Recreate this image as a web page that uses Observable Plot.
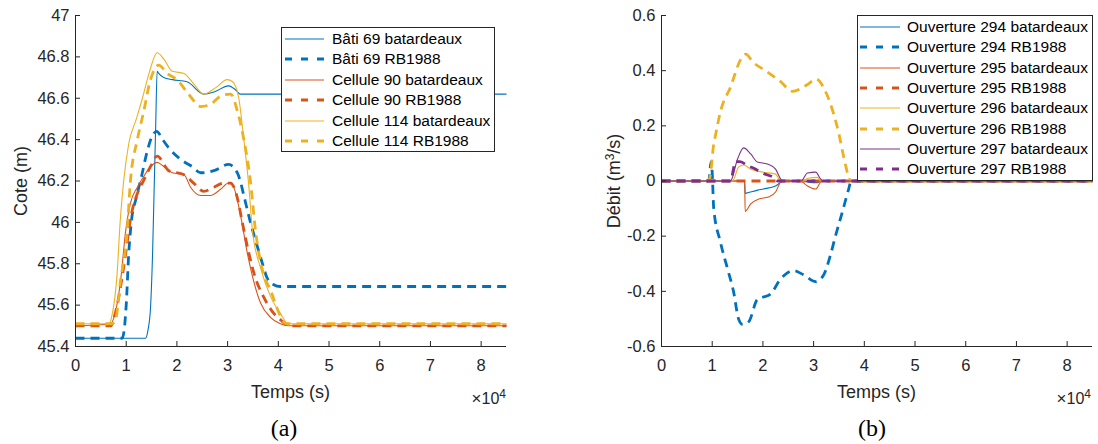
<!DOCTYPE html>
<html>
<head>
<meta charset="utf-8">
<script src="https://cdn.jsdelivr.net/npm/d3@7"></script>
<script src="https://cdn.jsdelivr.net/npm/@observablehq/plot@0.6"></script>
<style>
  html, body { margin: 0; padding: 0; background: white; }
  #wrap { position: relative; width: 1098px; height: 444px; overflow: hidden; font-family: "Liberation Sans", Arial, sans-serif; color: #262626; }
  .abs { position: absolute; white-space: nowrap; }
  .legend { position: absolute; box-sizing: border-box; border: 1px solid #262626; background: white; }
  .row { position: absolute; left: 0; height: 20px; display: flex; align-items: center; font-size: 15.5px; color: #000; white-space: nowrap; }
  .row svg { flex: none; }
  .xlab { font-size: 18px; line-height: 20px; transform: translateX(-50%); }
  .ylab { font-size: 18px; line-height: 18px; transform: translate(-50%, -50%) rotate(-90deg); }
  .cap { font-family: "Liberation Serif", "DejaVu Serif", serif; font-size: 24px; line-height: 26px; color: #000; transform: translateX(-50%); }
</style>
</head>
<body>
<div id="wrap">
  <div id="chartA" class="abs" style="left:0;top:0"></div>
  <div id="chartB" class="abs" style="left:549px;top:0"></div>
</div>
<script>
// ---------- shared axis data ----------
const xDomain = [0, 85000];
const xTicks = [0, 10000, 20000, 30000, 40000, 50000, 60000, 70000, 80000];
const xLabel = "Temps (s)";

// ---------- chart (a): Cote (m) ----------
const yDomainA = [45.4, 47];
const yTicksA = [45.4, 45.6, 45.8, 46, 46.2, 46.4, 46.6, 46.8, 47];
const yLabelA = "Cote (m)";

const bati69Bat_t = [0, 13800, 14300, 14800, 15200, 15500, 15800, 16100, 16400, 17400, 19100, 22000, 25300, 27300, 30200, 31600, 32500, 34000, 85000];
const bati69Bat_v = [45.44, 45.44, 45.48, 45.59, 45.85, 46.15, 46.45, 46.73, 46.72, 46.70, 46.69, 46.68, 46.62, 46.63, 46.66, 46.64, 46.62, 46.62, 46.62];

const bati69RB_t = [0, 9200, 9600, 10000, 10500, 11000, 12000, 13000, 14000, 15000, 16000, 17200, 18400, 21000, 23000, 24700, 27300, 30200, 31900, 32600, 33100, 34500, 35900, 37000, 37800, 39000, 40400, 85000];
const bati69RB_v = [45.44, 45.44, 45.48, 45.60, 45.85, 46.00, 46.12, 46.22, 46.33, 46.41, 46.44, 46.40, 46.36, 46.30, 46.27, 46.24, 46.25, 46.28, 46.24, 46.19, 46.14, 46.00, 45.88, 45.79, 45.73, 45.70, 45.69, 45.69];

const cel90Bat_t = [0, 6900, 7900, 8900, 9900, 10800, 12200, 13400, 14800, 16100, 17400, 19100, 21400, 22700, 24700, 26600, 28600, 30200, 31200, 32500, 33900, 35100, 36500, 38500, 40400, 42000, 85000];
const cel90Bat_v = [45.50, 45.51, 45.57, 45.72, 45.96, 46.09, 46.17, 46.22, 46.27, 46.29, 46.27, 46.24, 46.23, 46.17, 46.13, 46.13, 46.16, 46.19, 46.17, 46.04, 45.85, 45.72, 45.61, 45.54, 45.51, 45.50, 45.50];

const cel90RB_t = [0, 7000, 7500, 8900, 9900, 10800, 12200, 13400, 14800, 16100, 18400, 21400, 23300, 25300, 27300, 29200, 30600, 31900, 32900, 34200, 35500, 37100, 39100, 40400, 42000, 85000];
const cel90RB_v = [45.50, 45.50, 45.53, 45.69, 45.85, 46.01, 46.14, 46.20, 46.27, 46.32, 46.25, 46.23, 46.19, 46.15, 46.17, 46.19, 46.19, 46.12, 46.00, 45.85, 45.73, 45.64, 45.56, 45.53, 45.50, 45.50];

const cel114Bat_t = [0, 6600, 7200, 8200, 8800, 9500, 10500, 12000, 13200, 14500, 16100, 17400, 19100, 21400, 23300, 25300, 27600, 29900, 31000, 32200, 33200, 34200, 34900, 36500, 38500, 40400, 42000, 85000];
const cel114Bat_v = [45.51, 45.51, 45.55, 45.75, 46.00, 46.20, 46.38, 46.50, 46.60, 46.72, 46.82, 46.79, 46.73, 46.72, 46.67, 46.62, 46.65, 46.69, 46.68, 46.60, 46.40, 46.17, 45.96, 45.78, 45.64, 45.56, 45.51, 45.51];

const cel114RB_t = [0, 7200, 7900, 8900, 10200, 10800, 12200, 13400, 14800, 16400, 18100, 20000, 22300, 24700, 26600, 28600, 30600, 31900, 33200, 34500, 35500, 37100, 38500, 40000, 41500, 85000];
const cel114RB_v = [45.51, 45.51, 45.53, 45.72, 45.96, 46.19, 46.40, 46.53, 46.69, 46.76, 46.72, 46.69, 46.62, 46.56, 46.57, 46.61, 46.62, 46.54, 46.40, 46.20, 45.96, 45.75, 45.67, 45.57, 45.51, 45.51];

const namesA = ["Bâti 69 batardeaux", "Bâti 69 RB1988", "Cellule 90 batardeaux", "Cellule 90 RB1988", "Cellule 114 batardeaux", "Cellule 114 RB1988"];

// ---------- chart (b): Débit (m3/s) ----------
const yDomainB = [-0.6, 0.6];
const yTicksB = [-0.6, -0.4, -0.2, 0, 0.2, 0.4, 0.6];

const o294Bat_t = [0, 16400, 16500, 17500, 19000, 20100, 22500, 23500, 24000, 28000, 29000, 30800, 31400, 85000];
const o294Bat_v = [0, 0, -0.045, -0.040, -0.033, -0.029, -0.018, -0.005, 0, 0, -0.004, -0.006, 0, 0];

const o294RB_t = [0, 9300, 9800, 10000, 10300, 11600, 13200, 14200, 15200, 16000, 17200, 18900, 21500, 23500, 26000, 28000, 30400, 32000, 33300, 34300, 35700, 36900, 37400, 85000];
const o294RB_v = [0, 0, 0.07, 0.03, -0.10, -0.22, -0.33, -0.40, -0.50, -0.52, -0.51, -0.43, -0.41, -0.355, -0.325, -0.34, -0.365, -0.34, -0.27, -0.20, -0.11, -0.03, 0, 0];

const o295Bat_t = [0, 16400, 16500, 17600, 19200, 21100, 22500, 23500, 24000, 27500, 27800, 28800, 30400, 31400, 31800, 85000];
const o295Bat_v = [0, 0, -0.11, -0.083, -0.065, -0.058, -0.040, -0.004, 0, 0, -0.004, -0.018, -0.029, -0.004, 0, 0];

const o295RB_t = [0, 85000];
const o295RB_v = [0, 0];

const o296Bat_t = [0, 14000, 15200, 16200, 17600, 20100, 22500, 23500, 28000, 28800, 30800, 31400, 85000];
const o296Bat_v = [0, 0, 0.05, 0.058, 0.043, 0.032, 0.025, 0, 0, 0.01, 0.013, 0, 0];

const o296RB_t = [0, 9300, 9700, 10200, 10700, 11600, 13600, 15600, 16600, 18100, 20500, 23500, 25800, 28800, 30500, 32200, 34000, 35000, 35900, 37400, 85000];
const o296RB_v = [0, 0, 0.03, 0.12, 0.17, 0.25, 0.34, 0.44, 0.46, 0.43, 0.40, 0.36, 0.325, 0.35, 0.37, 0.33, 0.24, 0.17, 0.09, 0, 0];

const o297Bat_t = [0, 13600, 15000, 16200, 17600, 18900, 20900, 22500, 23500, 24000, 27500, 28800, 30400, 31400, 31800, 85000];
const o297Bat_v = [0, 0, 0.08, 0.12, 0.098, 0.069, 0.062, 0.043, 0.007, 0, 0, 0.029, 0.032, 0.007, 0, 0];

const o297RB_t = [0, 13600, 14600, 15500, 17000, 18100, 20100, 21900, 23000, 85000];
const o297RB_v = [0, 0, 0.07, 0.07, 0.055, 0.047, 0.027, 0.015, 0, 0];

const namesB = ["Ouverture 294 batardeaux", "Ouverture 294 RB1988", "Ouverture 295 batardeaux", "Ouverture 295 RB1988",
                "Ouverture 296 batardeaux", "Ouverture 296 RB1988", "Ouverture 297 batardeaux", "Ouverture 297 RB1988"];

// ---------- styles ----------
const colors = ["#0072BD", "#D95319", "#EDB120", "#7E2F8E"];
const THIN = 1.1, THICK = 2.8;

const seriesA = [
  {t: bati69Bat_t, v: bati69Bat_v, c: colors[0], dashed: false},
  {t: bati69RB_t, v: bati69RB_v, c: colors[0], dashed: true},
  {t: cel90Bat_t, v: cel90Bat_v, c: colors[1], dashed: false},
  {t: cel90RB_t, v: cel90RB_v, c: colors[1], dashed: true},
  {t: cel114Bat_t, v: cel114Bat_v, c: colors[2], dashed: false},
  {t: cel114RB_t, v: cel114RB_v, c: colors[2], dashed: true}
];
const seriesB = [
  {t: o294Bat_t, v: o294Bat_v, c: colors[0], dashed: false},
  {t: o294RB_t, v: o294RB_v, c: colors[0], dashed: true},
  {t: o295Bat_t, v: o295Bat_v, c: colors[1], dashed: false},
  {t: o295RB_t, v: o295RB_v, c: colors[1], dashed: true},
  {t: o296Bat_t, v: o296Bat_v, c: colors[2], dashed: false},
  {t: o296RB_t, v: o296RB_v, c: colors[2], dashed: true},
  {t: o297Bat_t, v: o297Bat_v, c: colors[3], dashed: false},
  {t: o297RB_t, v: o297RB_v, c: colors[3], dashed: true}
];

function makeChart(series, yDomain, yTicks, marginLeft, marginRight) {
  return Plot.plot({
    width: 549, height: 400,
    marginTop: 15, marginBottom: 54, marginLeft, marginRight,
    x: {domain: xDomain},
    y: {domain: yDomain},
    style: {fontFamily: "'Liberation Sans', Arial, sans-serif", fontSize: "16px", color: "#262626", background: "white", overflow: "visible"},
    marks: [
      ...series.map(s => Plot.line(s.t.map((t, i) => ({t, v: s.v[i]})), {
        x: "t", y: "v", stroke: s.c,
        strokeWidth: s.dashed ? THICK : THIN,
        strokeDasharray: s.dashed ? "9,6" : null,
        strokeLinecap: "butt", strokeLinejoin: "round",
        curve: "monotone-x"
      })),
      Plot.ruleX([xDomain[0]], {stroke: "#262626", strokeWidth: 1}),
      Plot.ruleY([yDomain[0]], {stroke: "#262626", strokeWidth: 1}),
      Plot.axisX({ticks: xTicks, tickFormat: d => String(d / 1e4), tickSize: -5, tickPadding: 18, label: null, stroke: "#262626", fontSize: 16.5, fill: "#262626"}),
      Plot.axisY({ticks: yTicks, tickFormat: d => String(d), tickSize: -5, tickPadding: 11, label: null, stroke: "#262626", fontSize: 16.5, fill: "#262626"})
    ]
  });
}

document.getElementById("chartA").appendChild(makeChart(seriesA, yDomainA, yTicksA, 75, 43));
document.getElementById("chartB").appendChild(makeChart(seriesB, yDomainB, yTicksB, 112, 6));

const wrap = document.getElementById("wrap");
function addDiv(cls, style, html) {
  const d = document.createElement("div");
  d.className = "abs " + cls;
  d.setAttribute("style", style);
  d.innerHTML = html;
  wrap.appendChild(d);
  return d;
}

// axis labels
addDiv("xlab", "left:290.5px;top:382px", xLabel);
addDiv("xlab", "left:876.5px;top:382px", xLabel);
addDiv("ylab", "left:21px;top:181px", yLabelA);
addDiv("ylab", "left:612px;top:181px", "Débit (m<sup style='font-size:12px;vertical-align:6px'>3</sup>/s)");
const expHtml = "<span style='font-size:17px'>×</span>10<sup style='font-size:12px;vertical-align:6px'>4</sup>";
addDiv("", "right:592px;top:385px;font-size:16px;line-height:18px", expHtml);
addDiv("", "right:7px;top:385px;font-size:16px;line-height:18px", expHtml);
// captions
addDiv("cap", "left:284px;top:415px", "(a)");
addDiv("cap", "left:872px;top:415px", "(b)");

// legends
function addLegend(left, top, width, height, names, series, firstRow, step, lineX0, lineX1, textX) {
  const box = document.createElement("div");
  box.className = "legend";
  box.setAttribute("style", `left:${left}px;top:${top}px;width:${width}px;height:${height}px`);
  names.forEach((name, i) => {
    const s = series[i];
    const row = document.createElement("div");
    row.className = "row";
    row.style.top = (firstRow + i * step - 10 - 1) + "px";
    const ns = "http://www.w3.org/2000/svg";
    const svg = document.createElementNS(ns, "svg");
    svg.setAttribute("width", textX - 1);
    svg.setAttribute("height", 20);
    const ln = document.createElementNS(ns, "line");
    ln.setAttribute("x1", lineX0 - 1); ln.setAttribute("x2", lineX1 - 1);
    ln.setAttribute("y1", 10); ln.setAttribute("y2", 10);
    ln.setAttribute("stroke", s.c);
    ln.setAttribute("stroke-width", s.dashed ? THICK : THIN);
    if (s.dashed) ln.setAttribute("stroke-dasharray", "7,9");
    svg.appendChild(ln);
    row.appendChild(svg);
    const span = document.createElement("span");
    span.textContent = name;
    row.appendChild(span);
    box.appendChild(row);
  });
  wrap.appendChild(box);
}
addLegend(281, 27, 214, 125, namesA, seriesA, 12, 20.4, 4, 43, 51);
addLegend(857, 15, 236, 166, namesB, seriesB, 12, 20.3, 3, 43, 50);
</script>
</body>
</html>
